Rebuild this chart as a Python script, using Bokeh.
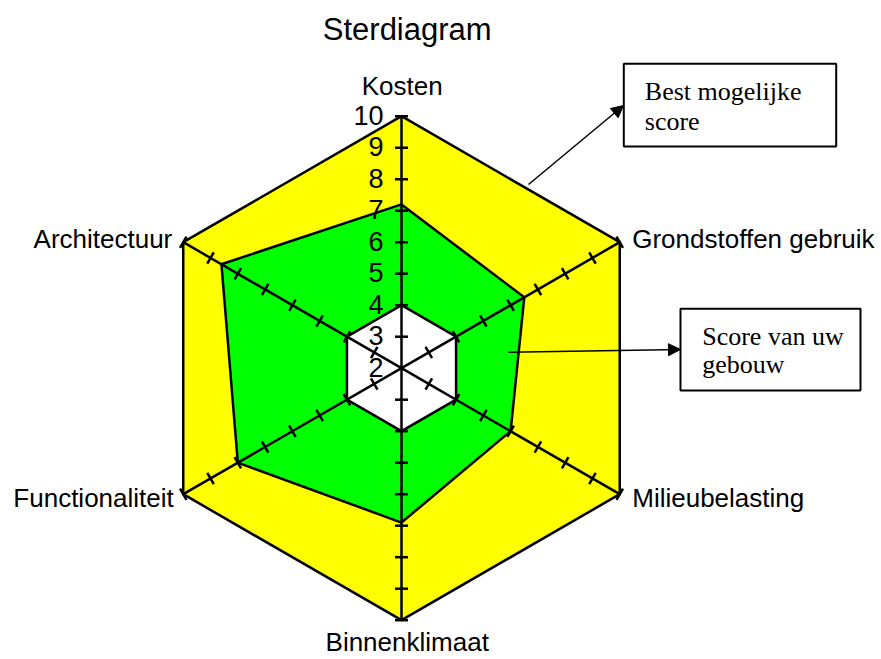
import numpy as np
from bokeh.plotting import figure
from bokeh.models import Range1d, Arrow, NormalHead
from bokeh.embed import file_html
from bokeh.resources import INLINE
from bokeh.core.properties import value

# ---------------- data ----------------
title_text = "Sterdiagram"
categories = ["Kosten", "Grondstoffen gebruik", "Milieubelasting",
              "Binnenklimaat", "Functionaliteit", "Architectuur"]
best_score = [10, 10, 10, 10, 10, 10]
your_score = [7.2, 6.5, 6.0, 6.9, 8.0, 8.6]
minimum_score = [4, 4, 4, 4, 4, 4]
axis_min = 2
axis_max = 10
tick_values = [2, 3, 4, 5, 6, 7, 8, 9, 10]
tick_labels = ["2", "3", "4", "5", "6", "7", "8", "9", "10"]
note_best = ["Best mogelijke", "score"]
note_score = ["Score van uw", "gebouw"]

# ---------------- layout ----------------
W, H = 881, 659
S = 31.5                    # px per value unit
CX, CY = 401.0, 367.7       # page position of the centre
fx, fy = CX, CY             # frame position of the centre

p = figure(width=W, height=H, output_backend="svg", toolbar_location=None,
           x_range=Range1d(-fx / S, (W - fx) / S),
           y_range=Range1d(-(H - fy) / S, fy / S),
           min_border=0, title=None)
p.xaxis.visible = False
p.yaxis.visible = False
p.grid.visible = False
p.outline_line_color = None
p.background_fill_color = "white"
p.border_fill_color = "white"


def dx(px):
    return (px - CX) / S


def dy(py):
    return (CY - py) / S


n = len(categories)
angles = np.deg2rad(90 - 60 * np.arange(n))
ux, uy = np.cos(angles), np.sin(angles)


def poly(vals):
    r = np.asarray(vals, dtype=float) - axis_min
    return list(r * ux), list(r * uy)


LW = 2.5
for vals, col in [(best_score, "#FFFF00"), (your_score, "#00FF00"), (minimum_score, "#FFFFFF")]:
    xs, ys = poly(vals)
    p.patch(xs, ys, fill_color=col, line_color="black", line_width=LW)

# axes
R = axis_max - axis_min
p.segment(x0=[0] * n, y0=[0] * n, x1=list(R * ux), y1=list(R * uy),
          line_color="black", line_width=LW)

# tick marks
half = 6.5 / S
tx0, ty0, tx1, ty1 = [], [], [], []
for i in range(n):
    px_, py_ = -uy[i], ux[i]
    for v in tick_values[1:]:
        r = v - axis_min
        bx, by = r * ux[i], r * uy[i]
        tx0.append(bx - half * px_); ty0.append(by - half * py_)
        tx1.append(bx + half * px_); ty1.append(by + half * py_)
p.segment(x0=tx0, y0=ty0, x1=tx1, y1=ty1, line_color="black", line_width=LW)

# tick labels on the first axis
p.text(x=[0] * len(tick_values), y=[v - axis_min for v in tick_values], text=tick_labels,
       text_font=value("Liberation Sans"), text_font_size="27px", text_color="black",
       text_align="right", text_baseline="middle", x_offset=-18, y_offset=-1)

# category labels
label_style = [("center", 0.7, -30.4), ("left", 12.5, -3.7), ("left", 12.5, 4.0),
               ("center", 5.7, 21.5), ("right", -9.5, 4.0), ("right", -11.0, -3.7)]
for i, name in enumerate(categories):
    al, xo, yo = label_style[i]
    p.text(x=[R * ux[i]], y=[R * uy[i]], text=[name],
           text_font=value("Liberation Sans"), text_font_size="26px", text_color="black",
           text_align=al, text_baseline="middle", x_offset=xo, y_offset=yo)

# title
p.text(x=[dx(406.7)], y=[dy(29.0)], text=[title_text],
       text_font=value("Liberation Sans"), text_font_size="31px", text_color="black",
       text_align="center", text_baseline="middle")

# note boxes
p.quad(left=[dx(623.3), dx(680)], right=[dx(835.7), dx(860)],
       top=[dy(63.3), dy(308.3)], bottom=[dy(146), dy(390)],
       fill_color="white", line_color="black", line_width=2)
p.text(x=[dx(644.3)] * 2, y=[dy(91.0), dy(121.0)], text=note_best,
       text_font=value("Liberation Serif"), text_font_size="26px", text_color="black",
       text_align="left", text_baseline="middle")
p.text(x=[dx(701.7)] * 2, y=[dy(336.0), dy(364.4)], text=note_score,
       text_font=value("Liberation Serif"), text_font_size="26px", text_color="black",
       text_align="left", text_baseline="middle")

# arrows
p.add_layout(Arrow(end=NormalHead(size=12, fill_color="black", line_color="black"),
                   x_start=dx(528), y_start=dy(184), x_end=dx(623), y_end=dy(105),
                   line_color="black", line_width=1.5))
p.add_layout(Arrow(end=NormalHead(size=12, fill_color="black", line_color="black"),
                   x_start=dx(508), y_start=dy(351.7), x_end=dx(680), y_end=dy(349),
                   line_color="black", line_width=1.5))

open("out.html", "w").write(file_html(p, INLINE))
